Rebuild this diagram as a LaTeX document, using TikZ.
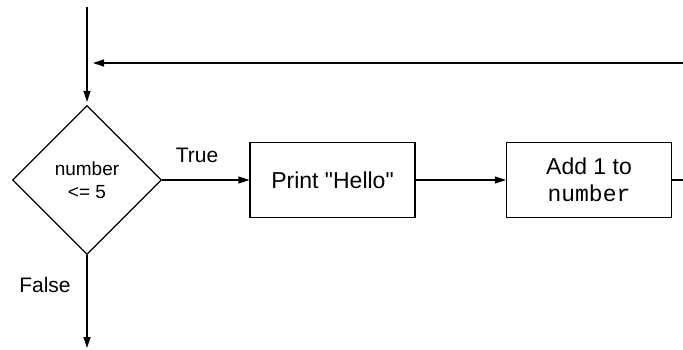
\documentclass[tikz,border=0pt]{standalone}
\usepackage{fontspec}
\setmainfont{Liberation Sans}
\setmonofont{Liberation Mono}
\usetikzlibrary{shapes.geometric,arrows.meta}

\tikzset{
  decision/.style={draw, diamond, minimum width=149pt, minimum height=149pt,
    inner sep=0pt, align=center, font=\fontsize{19}{23}\selectfont},
  process/.style={draw, rectangle, minimum width=165pt, minimum height=75pt,
    align=center, font=\fontsize{23}{27}\selectfont},
  branch/.style={font=\fontsize{21}{24}\selectfont}
}

\begin{document}
\begin{tikzpicture}[x=1pt, y=1pt, line width=1.2pt, >={Triangle[length=11pt,width=7pt]}]
            \useasboundingbox (0,0) rectangle (683,349);
            \node[decision] (test) at (87,169) {number\\<= 5};
            \node[process] (print) at (332.5,169) {Print \textquotedbl Hello\textquotedbl};
            \node[process] (add) at (589,169) {Add 1 to\\\texttt{number}};
            \coordinate (start) at (87,342);
            \coordinate (back) at (683,286);
            \coordinate (join) at (93,286);
            \coordinate (next) at (683,169);
            \coordinate (done) at (87,1);
            \draw[->, shorten >=3pt] (start) -- (test.north);
            \draw[->] (back) -- (join);
            \draw[->] (test.east) -- (print.west);
            \draw[->] (print.east) -- (add.west);
            \draw (add.east) -- (next);
            \draw[->] (test.south) -- (done);
            \node[branch] (yes) at (197,194) {True};
            \node[branch] (no) at (45,64) {False};
        \end{tikzpicture}
\end{document}
